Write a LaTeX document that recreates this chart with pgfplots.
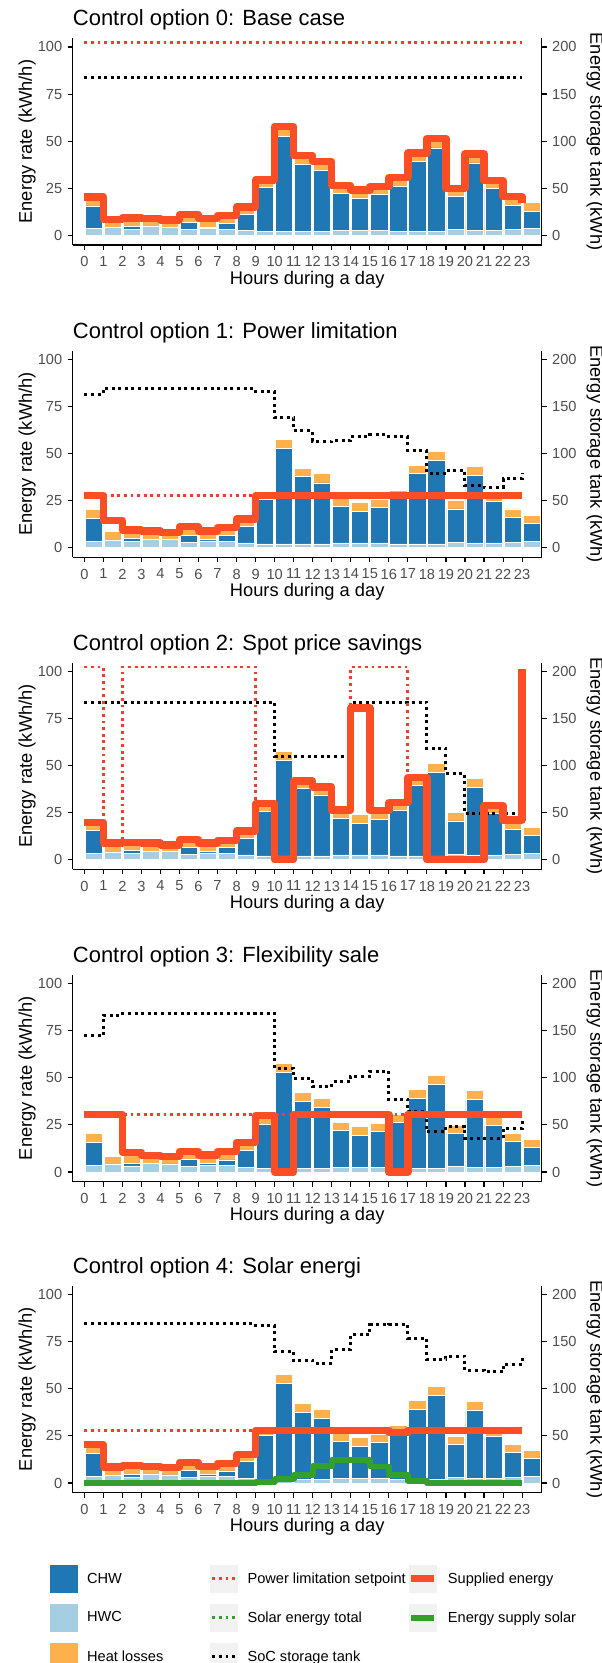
\documentclass[border=0pt]{standalone}
\usepackage{fontspec}
\setmainfont{Liberation Sans}
\usepackage{pgfplots}
\usepackage{pgfplotstable}
\pgfplotsset{compat=1.18}
\definecolor{cCHW}{HTML}{1F77B4}
\definecolor{cHWC}{HTML}{A6CEE3}
\definecolor{cLoss}{HTML}{FDB04C}
\definecolor{cSup}{HTML}{FB4E25}
\definecolor{cSp}{HTML}{F53B2A}
\definecolor{cGreen}{HTML}{33A02C}
\definecolor{tickgrey}{HTML}{4D4D4D}
\definecolor{keybg}{HTML}{F2F2F2}
\newcommand\ticksize{\fontsize{14.6}{17}\selectfont}
\newcommand\labsize{\fontsize{18.3}{21}\selectfont}
\newcommand\titlesize{\fontsize{22}{26}\selectfont}
\newcommand\legsize{\fontsize{14.6}{17}\selectfont}

% demand per hour (bars)
\pgfplotstableread{
h hwc chw loss
0 3.5 12.1 4.8
1 4.0 0.0 4.5
2 3.2 1.5 4.5
3 4.6 0.0 4.3
4 4.3 0.0 3.8
5 3.0 3.6 4.4
6 3.6 0.8 4.4
7 3.3 3.1 4.1
8 2.5 8.8 3.8
9 2.0 23.4 4.0
10 2.0 50.7 5.0
11 2.0 35.6 4.7
12 2.0 32.4 4.8
13 2.5 19.5 4.3
14 2.5 16.9 4.6
15 2.5 19.0 4.4
16 2.0 24.1 4.5
17 2.0 37.2 4.5
18 2.0 44.4 4.9
19 3.0 17.6 4.4
20 2.5 35.9 4.8
21 2.5 22.2 4.3
22 3.0 13.0 4.6
23 3.5 9.4 4.4
}\demand

\pgfplotstableread{
h sp sup soc
0 102.3 20.4 168
1 102.3 8.5 168
2 102.3 9.2 168
3 102.3 8.9 168
4 102.3 8.1 168
5 102.3 11.0 168
6 102.3 8.8 168
7 102.3 10.5 168
8 102.3 15.1 168
9 102.3 29.4 168
10 102.3 57.7 168
11 102.3 42.3 168
12 102.3 39.2 168
13 102.3 26.3 168
14 102.3 24.0 168
15 102.3 25.9 168
16 102.3 30.6 168
17 102.3 43.7 168
18 102.3 51.3 168
19 102.3 25.0 168
20 102.3 43.2 168
21 102.3 29.0 168
22 102.3 20.6 168
23 102.3 17.3 168
}\pZero

\pgfplotstableread{
h sp sup soc
0 27.7 27.7 163
1 27.7 14.5 169
2 27.7 9.3 169
3 27.7 8.8 169
4 27.7 8.0 169
5 27.7 11.2 169
6 27.7 8.8 169
7 27.7 10.7 169
8 27.7 15.2 169
9 27.7 27.7 166
10 27.7 27.7 138
11 27.7 27.7 124
12 27.7 27.7 113
13 27.7 27.7 114
14 27.7 27.7 118
15 27.7 27.7 120
16 27.7 27.7 118
17 27.7 27.7 103
18 27.7 27.7 79
19 27.7 27.7 82
20 27.7 27.7 66
21 27.7 27.7 64
22 27.7 27.7 73
23 27.7 27.7 79
}\pOne

\pgfplotstableread{
h sp sup soc
0 102.3 19.9 167.3
1 8.8 8.8 167.3
2 102.3 9.2 167.3
3 102.3 8.8 167.3
4 102.3 7.9 167.3
5 102.3 10.6 167.3
6 102.3 8.8 167.3
7 102.3 10.2 167.3
8 102.3 15.3 167.3
9 29.9 29.9 167.3
10 0 0 110
11 41.7 41.7 110
12 38.7 38.7 110
13 26.4 26.4 110
14 102.3 80.6 167.3
15 102.3 26.1 167.3
16 102.3 30.3 167.3
17 43.5 43.5 167.3
18 0 0 118
19 0 0 91.5
20 0 0 49.3
21 28.7 28.7 49.3
22 21.1 21.1 49.3
23 101.5 101.5 49.3
}\pTwo

\pgfplotstableread{
h sp sup soc
0 30.6 30.6 144.5
1 30.6 30.6 166.4
2 30.6 10.4 168.2
3 30.6 8.7 168.2
4 30.6 8.1 168.2
5 30.6 10.8 168.2
6 30.6 9.0 168.2
7 30.6 10.8 168.2
8 30.6 15.7 168.2
9 30.6 29.9 168.2
10 30.6 0 110
11 30.6 30.6 99.3
12 30.6 30.6 90.5
13 30.6 30.6 95.8
14 30.6 30.6 101.8
15 30.6 30.6 107.1
16 30.6 0 77
17 30.6 30.6 64
18 30.6 30.6 42.8
19 30.6 30.6 48.1
20 30.6 30.6 35.7
21 30.6 30.6 35.7
22 30.6 30.6 46.3
23 30.6 30.6 56.9
}\pThree

\pgfplotstableread{
h sp sup soc sol
0 28.0 20.4 169.2 0
1 28.0 8.5 169.2 0
2 28.0 9.2 169.2 0
3 28.0 8.9 169.2 0
4 28.0 8.1 169.2 0
5 28.0 11.0 169.2 0
6 28.0 8.8 169.2 0
7 28.0 10.5 169.2 0
8 28.0 15.1 169.2 0
9 28.0 28.0 167.4 0.7
10 28.0 28.0 139.8 2.0
11 28.0 28.0 130.3 4.3
12 28.0 28.0 127.4 9.0
13 28.0 28.0 141.9 12.3
14 28.0 28.0 157.5 12.3
15 28.0 28.0 168.1 8.8
16 28.0 26.8 168.8 4.3
17 28.0 28.0 154.0 1.2
18 28.0 28.0 131.3 0
19 28.0 28.0 134.5 0
20 28.0 28.0 119.6 0
21 28.0 28.0 117.9 0
22 28.0 28.0 126.0 0
23 28.0 28.0 133.8 0
}\pFour

\pgfplotsset{
  panel/.style={width=469pt, height=206.6pt, scale only axis,
    xmin=-0.61, xmax=24.03, ymin=-5.1, ymax=104.6,
    axis x line*=bottom, axis y line*=left,
    xtick={0,...,23}, ytick={0,25,50,75,100},
    tick align=outside, major tick length=5pt,
    axis line style={line width=1.4pt, black},
    tick style={line width=1.1pt, black},
    tick label style={font=\ticksize, text=tickgrey},
    xticklabel style={yshift=-3pt},
    yticklabel style={xshift=-2pt},
    /pgf/number format/assume math mode=true,
    xlabel={Hours during a day}, ylabel={Energy rate (kWh/h)},
    every axis x label/.style={at={(axis description cs:0.5,-0.19)}, anchor=base, font=\labsize},
    every axis y label/.style={at={(axis description cs:-0.097,0.5)}, rotate=90, anchor=center, font=\labsize},
    title style={at={(axis description cs:0,1.031)}, anchor=base west, font=\titlesize, inner sep=0pt},
  },
  rpanel/.style={width=469pt, height=206.6pt, scale only axis,
    xmin=-0.61, xmax=24.03, ymin=-10.2, ymax=209.2,
    axis x line=none, axis y line*=right,
    ytick={0,50,100,150,200},
    tick align=outside, major tick length=5pt,
    axis line style={line width=1.4pt, black},
    tick style={line width=1.1pt, black},
    tick label style={font=\ticksize, text=tickgrey},
    yticklabel style={xshift=2pt},
    /pgf/number format/assume math mode=true,
    ylabel={Energy storage tank (kWh)},
    every axis y label/.style={at={(axis description cs:1.114,0.5)}, rotate=-90, anchor=center, font=\labsize},
  },
  barstyle/.style={ybar, bar width=0.9, bar shift=0pt, draw=white, line width=0.8pt, forget plot},
  socstyle/.style={black, line width=3pt, dash pattern=on 3pt off 3.6pt, const plot, forget plot},
  spstyle/.style={cSp, line width=2.8pt, dash pattern=on 2.8pt off 3.8pt, const plot, forget plot},
  supstyle/.style={cSup, line width=7.4pt, line join=round, const plot, forget plot},
  solstyle/.style={cGreen, line width=5.8pt, line join=round, const plot, forget plot},
  soldotstyle/.style={cGreen, line width=2.8pt, dash pattern=on 2.8pt off 3.8pt, const plot, forget plot},
}

\newcommand\drawbars{%
  \addplot[barstyle, fill=cLoss] table[x expr=\thisrow{h}+0.5, y expr=\thisrow{hwc}+\thisrow{chw}+\thisrow{loss}] {\demand};
  \addplot[barstyle, fill=cCHW] table[x expr=\thisrow{h}+0.5, y expr=\thisrow{hwc}+\thisrow{chw}] {\demand};
  \addplot[barstyle, fill=cHWC] table[x expr=\thisrow{h}+0.5, y=hwc] {\demand};
}
\newcommand\drawlines[1]{%
  \addplot[socstyle] table[x=h, y expr=\thisrow{soc}/2] {#1};
  \addplot[spstyle] table[x=h, y=sp] {#1};
  \addplot[supstyle] table[x=h, y=sup] {#1};
}

\begin{document}
\begin{tikzpicture}
% ---------- panel 0
\begin{axis}[panel, at={(72.7pt,-38.3pt)}, anchor=north west, title={Control option 0: Base case}]
\drawbars
\drawlines{\pZero}
\end{axis}
\begin{axis}[rpanel, at={(72.7pt,-38.3pt)}, anchor=north west]
\end{axis}
% ---------- panel 1
\begin{axis}[panel, at={(72.7pt,-350.7pt)}, anchor=north west, title={Control option 1: Power limitation}]
\drawbars
\drawlines{\pOne}
\end{axis}
\begin{axis}[rpanel, at={(72.7pt,-350.7pt)}, anchor=north west]
\end{axis}
% ---------- panel 2
\begin{axis}[panel, at={(72.7pt,-662.7pt)}, anchor=north west, title={Control option 2: Spot price savings}]
\drawbars
\drawlines{\pTwo}
\end{axis}
\begin{axis}[rpanel, at={(72.7pt,-662.7pt)}, anchor=north west]
\end{axis}
% ---------- panel 3
\begin{axis}[panel, at={(72.7pt,-975pt)}, anchor=north west, title={Control option 3: Flexibility sale}]
\drawbars
\drawlines{\pThree}
\end{axis}
\begin{axis}[rpanel, at={(72.7pt,-975pt)}, anchor=north west]
\end{axis}
% ---------- panel 4
\begin{axis}[panel, at={(72.7pt,-1286pt)}, anchor=north west, title={Control option 4: Solar energi},
  legend columns=3, legend cell align=left,
  legend style={at={(axis description cs:-0.049,-0.3504)}, anchor=north west, draw=none, fill=none,
    inner sep=0pt, outer sep=0pt, row sep=11.5pt, font=\legsize, nodes={inner sep=0pt},
    /tikz/every odd column/.style={column sep=10pt}}]
\drawbars
\drawlines{\pFour}
\addplot[soldotstyle] table[x=h, y=sol] {\pFour};
\addplot[solstyle] table[x=h, y=sol] {\pFour};
\addlegendimage{legend image code/.code={\fill[cCHW] (0pt,-13.5pt) rectangle (27pt,13.5pt);}}
\addlegendentry{\makebox[123pt][l]{CHW}}
\addlegendimage{legend image code/.code={\fill[keybg] (0pt,-13.5pt) rectangle (27pt,13.5pt); \draw[cSp, line width=2.8pt, dash pattern=on 2.8pt off 3.8pt] (2pt,0pt) -- (25pt,0pt);}}
\addlegendentry{\makebox[160pt][l]{Power limitation setpoint}}
\addlegendimage{legend image code/.code={\fill[keybg] (0pt,-13.5pt) rectangle (27pt,13.5pt); \draw[cSup, line width=7.4pt] (2pt,0pt) -- (25pt,0pt);}}
\addlegendentry{Supplied energy}
\addlegendimage{legend image code/.code={\fill[cHWC] (0pt,-13.5pt) rectangle (27pt,13.5pt);}}
\addlegendentry{\makebox[123pt][l]{HWC}}
\addlegendimage{legend image code/.code={\fill[keybg] (0pt,-13.5pt) rectangle (27pt,13.5pt); \draw[cGreen, line width=2.8pt, dash pattern=on 2.8pt off 3.8pt] (2pt,0pt) -- (25pt,0pt);}}
\addlegendentry{\makebox[160pt][l]{Solar energy total}}
\addlegendimage{legend image code/.code={\fill[keybg] (0pt,-13.5pt) rectangle (27pt,13.5pt); \draw[cGreen, line width=5.8pt] (2pt,0pt) -- (25pt,0pt);}}
\addlegendentry{Energy supply solar}
\addlegendimage{legend image code/.code={\fill[cLoss] (0pt,-13.5pt) rectangle (27pt,13.5pt);}}
\addlegendentry{\makebox[123pt][l]{Heat losses}}
\addlegendimage{legend image code/.code={\fill[keybg] (0pt,-13.5pt) rectangle (27pt,13.5pt); \draw[black, line width=2.8pt, dash pattern=on 2.8pt off 3.8pt] (2pt,0pt) -- (25pt,0pt);}}
\addlegendentry{\makebox[160pt][l]{SoC storage tank}}
\end{axis}
\begin{axis}[rpanel, at={(72.7pt,-1286pt)}, anchor=north west]
\end{axis}
\pgfresetboundingbox
\path[use as bounding box] (0pt,0pt) rectangle (602pt,-1663pt);
\end{tikzpicture}
\end{document}
